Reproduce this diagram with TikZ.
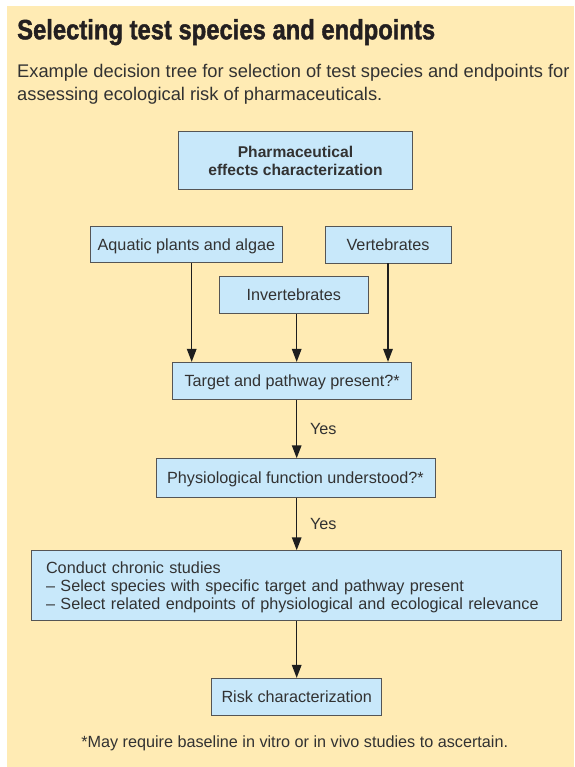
\documentclass[tikz,border=0pt]{standalone}
\usepackage{fontspec}
\setmainfont{Liberation Sans}
\newfontfamily\titlefont[FakeStretch=0.85,FakeBold=1.4]{Liberation Sans Bold}
\usetikzlibrary{arrows.meta}
\definecolor{bgyellow}{RGB}{255,235,180}
\definecolor{boxblue}{RGB}{200,232,250}
\definecolor{boxline}{RGB}{85,85,85}
\definecolor{inkgrey}{RGB}{50,50,50}
\definecolor{titleink}{RGB}{35,31,32}
\definecolor{arrowink}{RGB}{30,30,30}
\begin{document}
\begin{tikzpicture}[x=1pt,y=-1pt,
    box/.style={rectangle,draw=boxline,fill=boxblue,line width=0.9pt,inner sep=0pt,
      text=inkgrey,text depth=0pt,font=\fontsize{16.2}{17.7}\selectfont},
    oneline/.style={box,text height=11.4pt},
    flow/.style={draw=arrowink,line width=1.5pt,-{Triangle[width=9.5pt,length=13pt]}},
    yes/.style={anchor=west,inner sep=0pt,xshift=12.6pt,text=inkgrey,
      text height=11.4pt,text depth=0pt,font=\fontsize{16.2}{17.7}\selectfont}]

      \fill[bgyellow] (7,6) rectangle (574,767);
      \useasboundingbox (0,0) rectangle (574,767);

      \begin{scope}[every node/.style={anchor=base west,inner sep=0pt,text=inkgrey}]
        \node[text=titleink,font=\titlefont\fontsize{28}{30}\selectfont] (title) at (17,39.3)
          {Selecting test species and endpoints};
        \node[font=\fontsize{18.3}{23}\selectfont] (intro1) at (17,77.3)
          {Example decision tree for selection of test species and endpoints for};
        \node[font=\fontsize{18.3}{23}\selectfont] (intro2) at (17,100.3)
          {assessing ecological risk of pharmaceuticals.};
      \end{scope}

      \node[box,minimum width=234.4pt,minimum height=58pt,align=center,
        font=\bfseries\fontsize{15.6}{18.3}\selectfont] (pharm) at (295.5,160.7)
        {Pharmaceutical\\effects characterization};

      \begin{scope}[every node/.style={oneline}]
        \node[minimum width=192.7pt,minimum height=36.7pt] (aquatic) at (186.4,244.4) {Aquatic plants and algae};
        \node[minimum width=126pt,minimum height=37pt] (verts) at (388,244.5) {Vertebrates};
        \node[minimum width=149pt,minimum height=37.3pt] (inverts) at (293.8,294.7) {Invertebrates};
        \node[minimum width=239pt,minimum height=36.7pt] (target) at (292.2,380.7) {Target and pathway present?*};
        \node[minimum width=279pt,minimum height=38.6pt] (physio) at (295.5,478) {Physiological function understood?*};
        \node[minimum width=170pt,minimum height=36.7pt] (risk) at (296.7,696.7) {Risk characterization};
      \end{scope}

      \node[box,text depth=35.4pt,minimum width=530.7pt,minimum height=70pt,text width=500.7pt,align=left] (conduct) at (296.4,585.7)
        {Conduct chronic studies\\
         -- Select species with specific target and pathway present\\
         -- Select related endpoints of physiological and ecological relevance};

      \node[anchor=base,inner sep=0pt,text=inkgrey,font=\fontsize{16.2}{17.7}\selectfont] (note) at (294.7,747.5)
        {*May require baseline in vitro or in vivo studies to ascertain.};

      \begin{scope}[every edge/.style={flow}]
        \path ([xshift=5.3pt]aquatic.south) edge ([xshift=5.3pt]aquatic.south |- target.north);
        \path (inverts.south -| risk.north) edge (target.north -| risk.north);
        \path (verts.south) edge (verts.south |- target.north);
        \path (target.south -| risk.north) edge node[yes] {Yes} (physio.north -| risk.north);
        \path (physio.south -| risk.north) edge node[yes] {Yes} (conduct.north -| risk.north);
        \path (conduct.south -| risk.north) edge (risk.north);
      \end{scope}

    \end{tikzpicture}
\end{document}
